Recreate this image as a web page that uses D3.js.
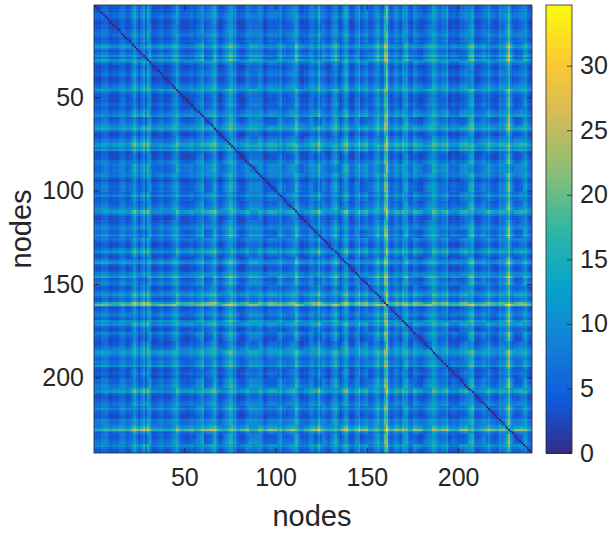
<!DOCTYPE html>
<html><head><meta charset="utf-8">
<script src="https://cdn.jsdelivr.net/npm/d3@7"></script>
<style>html,body{margin:0;padding:0;background:#fff}svg{display:block}text{font-family:"Liberation Sans",Arial,sans-serif;fill:#262626}</style>
</head><body><svg id="c" width="608" height="534"></svg>
<script>
// Per-node levels estimated from the picture's bright and dark bands (node 1..240)
const nodeLevels = [
3,2,4,1.5,5,5,6,4,2,1.5, 2,3,1.5,4,5,6,6,3,2,4,
3,8,11,6,2,4,5,9,3,10, 9,4,1.5,1.5,2,3,4,5,2,1.5,
2,3,4,6,8,12,6,3,1.5,2, 2,1.5,3,4,2,3,5,6,8,11,
2,3,4,5,7,10,13,7,2,1.5, 3,4,6,8,12,13,7,12,3,1.5,
1.5,1.5,2,5,6,6.5,6,5,6,6, 7,8,4,1.5,1.5,3,4,4,3,4,
4,6,9,3,4,3,4,5,6,8, 12,11,5,2,1.5,3,2,4,6,8,
5,3,5,11,4,7,5,3,1.5,3, 6,8,11,5,2,2,6,10,12,4,
2,1.5,3,7,8,11,2,3,5,6, 4,2,4,6,9,11,6,3,5,16,
21,6,2,3,5,7,6,3,2,9, 10,11,4,2,3,6,5,3,2,1.5,
2,2.5,4,6,7,11,12,9,6,4, 5,7,5,10,2,2,3,4,2,1.5,
3,4,3,5,6,8,11,12,4,2, 2,3,5,6,7,5,9,4,3,2,
2,3,8,6,7,8,11,19,8,4, 3,2,3,4,5,8,10,5,3,2];
// Block pattern estimated per run of 5 nodes: similar values give darker cells
const nodeBlocks = [
0,1,2,1,3,4,1,0,0,2, 3,1,4,2,0,1,3,0,2,4,
1,3,0,2,4,1,0,3,2,4, 1,0,2,3,1,4,0,2,3,1,
4,0,1,3,2,0,4,1];
const levelScale = 0.9;
const axisTicks = [50,100,150,200];
const barTicks = [0,5,10,15,20,25,30];
const colorMax = 34.7;
const parula = ['#352a87','#0f5cdd','#1481d6','#06a4ca','#2eb7a4','#87bf77','#d1bb59','#fec832','#f9fb0e'];

const nodes = d3.range(1, nodeLevels.length + 1);
const blockOf = n => nodeBlocks[Math.floor((n - 1) / 5)];
const cells = nodes.flatMap(r => nodes.map(c => {
  const gap = Math.abs(r - c);
  const base = (nodeLevels[r-1] + nodeLevels[c-1]) * levelScale * (0.76 + 0.09 * Math.abs(blockOf(r) - blockOf(c)));
  return {r, c, v: gap === 0 ? 0 : gap === 1 ? base * 0.8 : base};
}));

const L=94,R=532,T=5,B=453;
const x = d3.scaleLinear().domain([0.5,240.5]).range([L,R]);
const y = d3.scaleLinear().domain([0.5,240.5]).range([T,B]);
const color = d3.scaleLinear().domain(parula.map((_,i)=>i/(parula.length-1)*colorMax)).range(parula).clamp(true);
const svg = d3.select('#c');
const ink = '#262626';

svg.append('g').attr('shape-rendering','crispEdges').selectAll('rect').data(cells).join('rect')
  .attr('x',d=>x(d.c-0.5)).attr('y',d=>y(d.r-0.5))
  .attr('width',x(2)-x(1)+0.3).attr('height',y(2)-y(1)+0.3)
  .attr('fill',d=>color(d.v));

function style(g,size){
  g.selectAll('.domain').remove();
  g.selectAll('line').attr('stroke',ink).attr('stroke-width',0.8);
  g.selectAll('text').attr('font-size',size).attr('fill',ink);
}
svg.append('g').attr('transform',`translate(0,${B})`).call(d3.axisBottom(x).tickValues(axisTicks).tickSize(-5).tickPadding(15)).call(style,25);
svg.append('g').attr('transform',`translate(${L},0)`).call(d3.axisLeft(y).tickValues(axisTicks).tickSize(-5).tickPadding(10)).call(style,25);
svg.append('g').attr('transform',`translate(0,${T})`).call(d3.axisTop(x).tickValues(axisTicks).tickSize(-5).tickFormat('')).call(style,25);
svg.append('g').attr('transform',`translate(${R},0)`).call(d3.axisRight(y).tickValues(axisTicks).tickSize(-5).tickFormat('')).call(style,25);
svg.append('rect').attr('x',L).attr('y',T).attr('width',R-L).attr('height',B-T).attr('fill','none').attr('stroke',ink).attr('stroke-width',0.8);

svg.append('text').attr('x',(L+R)/2-1).attr('y',526).attr('text-anchor','middle').attr('font-size',29).text('nodes');
svg.append('text').attr('transform',`translate(31,${(T+B)/2}) rotate(-90)`).attr('text-anchor','middle').attr('font-size',29).text('nodes');

// colorbar
const CL=546,CR=572;
const cb = d3.scaleLinear().domain([0,colorMax]).range([B,T]);
const levels = d3.range(64);
svg.append('g').attr('shape-rendering','crispEdges').selectAll('rect').data(levels).join('rect')
  .attr('x',CL).attr('width',CR-CL)
  .attr('y',d=>cb((d+1)/64*colorMax)).attr('height',d=>cb(d/64*colorMax)-cb((d+1)/64*colorMax)+0.5)
  .attr('fill',d=>color((d+0.5)/64*colorMax));
svg.append('g').attr('transform',`translate(${CR},0)`).call(d3.axisRight(cb).tickValues(barTicks).tickSize(-5).tickPadding(8)).call(style,25);
svg.append('rect').attr('x',CL).attr('y',T).attr('width',CR-CL).attr('height',B-T).attr('fill','none').attr('stroke',ink).attr('stroke-width',0.8);
</script></body></html>
